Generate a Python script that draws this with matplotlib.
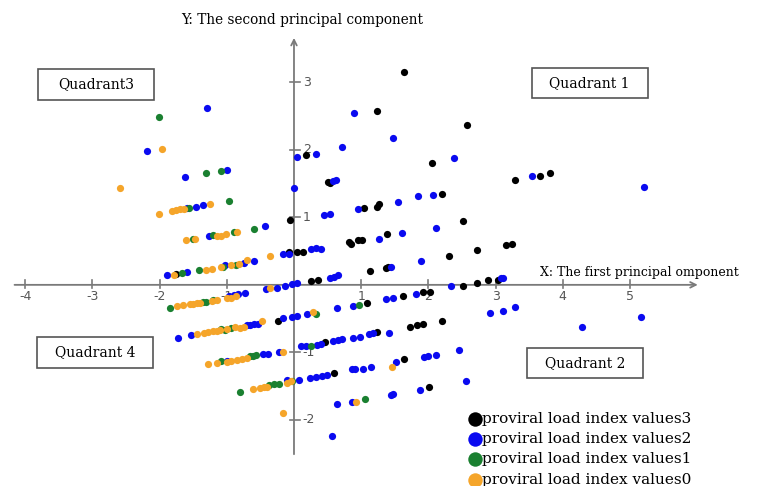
import matplotlib.pyplot as plt
from matplotlib.patches import Rectangle

# Valores (PC1, PC2) por grupo
x_v3 = [1.63, 1.23, 2.58, 0.18, 2.05, 2.20, 0.50, 0.54, 1.04, 1.24,
        1.27, 2.52, -0.06, 0.05, 0.13, -0.08, 0.82, 0.85, 0.96, 1.01,
        1.39, 2.31, 2.72, 1.13, 1.37, 1.40, 0.26, 0.35, 2.52, 2.72,
        2.89, 3.04, 3.29, 3.66, 3.81, 3.15, 3.25, 1.62, 1.09, 1.92,
        2.02, 2.20, 1.72, 1.83, 1.92, 1.23, 0.46, 1.63, 0.60, 2.01,
        -0.24, -1.76]
y_v3 = [3.16, 2.58, 2.37, 1.93, 1.81, 1.35, 1.52, 1.51, 1.14, 1.16,
        1.20, 0.95, 0.96, 0.49, 0.48, 0.49, 0.64, 0.61, 0.67, 0.66,
        0.76, 0.43, 0.51, 0.21, 0.25, 0.26, 0.06, 0.07, -0.01, 0.03,
        0.07, 0.07, 1.56, 1.61, 1.66, 0.59, 0.60, -0.16, -0.27, -0.11,
        -0.11, -0.53, -0.63, -0.60, -0.58, -0.70, -0.85, -1.10, -1.30, -1.52,
        -0.53, 0.16]

x_v2 = [-1.29, -2.19, -1.62, -1.00, 0.05, 0.00, -1.59, -1.46, -1.36, -0.43,
        -1.26, -0.17, -0.07, -1.89, -1.59, -1.03, -0.75, -0.60, -0.42, -0.26,
        -0.13, -0.03, 0.04,
        0.90, 1.48, 0.72, 0.33, 2.38, 0.58, 0.62, 1.55, 1.85, 2.07,
        0.44, 0.53, 0.95, 1.26, 1.60, 2.11, 0.26, 0.33, 0.40, 1.89,
        1.45, 0.53, 0.59, 0.66, 2.34, 3.54, 5.21, 3.08, 3.11,
        2.92, 3.11, 3.29, 4.29, 5.16, 1.37, 1.48, 1.82, 0.64, 0.88,
        -0.03, 0.05, 0.19, 0.10, 0.18, 0.34, 0.40, 0.58, 0.66, 0.71,
        0.88, 0.98, 1.11, 1.17, 1.41, 2.46, 1.52, 1.93, 2.00, 2.11,
        0.08, 0.24, 0.33, 0.41, 0.49, 0.86, 0.91, 1.03, 1.15, 1.87,
        1.45, 1.48, 2.56, 0.64, 0.86, 0.57,
        -0.96, -0.90, -0.83, -0.73, -1.72, -1.54, -0.70, -0.65, -0.60, -0.53,
        -0.16, -0.99, -0.46, -0.38, -0.22, -0.11]
y_v2 = [2.62, 1.99, 1.60, 1.70, 1.90, 1.43, 1.14, 1.15, 1.19, 0.87,
        0.72, 0.45, 0.45, 0.14, 0.19, 0.30, 0.33, 0.36, -0.06, -0.05,
        -0.01, 0.01, 0.02,
        2.54, 2.17, 2.04, 1.94, 1.88, 1.54, 1.55, 1.23, 1.31, 1.33,
        1.04, 1.05, 1.12, 0.68, 0.77, 0.84, 0.53, 0.54, 0.53, 0.36,
        0.27, 0.10, 0.11, 0.14, -0.02, 1.61, 1.45, 0.10, 0.10,
        -0.42, -0.39, -0.33, -0.62, -0.47, -0.21, -0.19, -0.14, -0.35, -0.31,
        -0.48, -0.46, -0.43, -0.91, -0.90, -0.89, -0.87, -0.83, -0.81, -0.80,
        -0.78, -0.77, -0.73, -0.72, -0.72, -0.97, -1.14, -1.07, -1.06, -1.04,
        -1.41, -1.38, -1.36, -1.35, -1.33, -1.25, -1.25, -1.25, -1.22, -1.56,
        -1.63, -1.61, -1.43, -1.77, -1.73, -2.24,
        -0.17, -0.15, -0.14, -0.12, -0.78, -0.75, -0.60, -0.59, -0.58, -0.58,
        -0.49, -1.13, -1.03, -1.02, -0.99, -1.41]

x_v1 = [-2.01, -1.31, -1.09, -0.97, -1.56, -0.59, -1.50, -1.20, -0.90, -1.67,
        -1.42, -1.05, -0.86, -1.84, -1.35, -1.31, -1.20, -1.08, -1.03, -0.93,
        -1.08, -0.66, -0.61, -0.56, -0.80, -0.37, -0.30, -0.22, 0.33, 0.97,
        0.26, 1.06, -0.03]
y_v1 = [2.48, 1.65, 1.69, 1.24, 1.14, 0.83, 0.68, 0.74, 0.79, 0.18,
        0.22, 0.27, 0.29, -0.34, -0.25, -0.25, -0.23, -0.66, -0.67, -0.64,
        -1.13, -1.06, -1.05, -1.04, -1.58, -1.48, -1.47, -1.47, -0.43, -0.30,
        -0.91, -1.69, -1.43]

x_v0 = [-2.59, -1.96, -2.01, -1.82, -1.76, -1.70, -1.64, -1.25, -1.60, -1.47,
        -1.15, -1.09, -1.01, -0.85, -0.36, -1.31, -1.22, -1.09, -0.94, -0.82,
        -0.70, -1.78, -0.35,
        -1.74, -1.65, -1.55, -1.51, -1.45, -1.40, -1.22, -1.15, -0.99, -0.93, -0.86,
        -1.45, -1.34, -1.28, -1.20, -1.15, -1.10, -0.99, -0.88, -0.81, -0.75, -0.48,
        -1.28, -1.15, -1.00, -0.93, -0.85, -0.78, -0.70, -0.16,
        -0.61, -0.51, -0.45, -0.40, -0.10, -0.04,
        -0.16, 0.29, 1.46, 0.93]
y_v0 = [1.44, 2.01, 1.05, 1.10, 1.11, 1.13, 1.13, 1.20, 0.66, 0.68,
        0.73, 0.73, 0.75, 0.79, 0.42, 0.22, 0.24, 0.26, 0.30, 0.31,
        0.37, 0.15, -0.05,
        -0.31, -0.30, -0.29, -0.28, -0.27, -0.27, -0.24, -0.23, -0.20, -0.19, -0.17,
        -0.73, -0.72, -0.70, -0.69, -0.68, -0.67, -0.65, -0.63, -0.64, -0.63, -0.53,
        -1.17, -1.16, -1.14, -1.13, -1.11, -1.10, -1.09, -0.99,
        -1.55, -1.53, -1.52, -1.51, -1.45, -1.42,
        -1.90, -0.40, -1.22, -1.73]

x_ticks = [-4, -3, -2, -1, 1, 2, 3, 4, 5]
y_ticks = [-2, -1, 1, 2, 3]

fig = plt.figure(figsize=(7.6, 4.86), dpi=100)
ax = fig.add_axes([0, 0, 1, 1])
ax.set_xlim(-4.375, 6.935)
ax.set_ylim(-2.98, 4.22)
ax.axis("off")

cinza = "#7a7a7a"

# eixos com seta
ax.annotate("", xy=(6.05, 0), xytext=(-4.2, 0),
            arrowprops=dict(arrowstyle="->", color=cinza, lw=1.3))
ax.annotate("", xy=(0, 3.7), xytext=(0, -2.55),
            arrowprops=dict(arrowstyle="->", color=cinza, lw=1.3))

for t in x_ticks:
    ax.plot([t, t], [-0.045, 0.07], color=cinza, lw=1.2)
    ax.text(t, -0.18, str(t), ha="center", va="center", fontsize=9, color="#555555")
for t in y_ticks:
    ax.plot([-0.06, 0.09], [t, t], color=cinza, lw=1.2)
    ax.text(0.13, t, str(t), ha="left", va="center", fontsize=9, color="#555555")

# pontos
ax.scatter(x_v3, y_v3, s=27, color="#000000", lw=0, label="proviral load index values3", zorder=3)
ax.scatter(x_v2, y_v2, s=27, color="#0a0af0", lw=0, label="proviral load index values2", zorder=3)
ax.scatter(x_v1, y_v1, s=27, color="#1a8030", lw=0, label="proviral load index values1", zorder=3)
ax.scatter(x_v0, y_v0, s=27, color="#f5a52a", lw=0, label="proviral load index values0", zorder=3)

serif = "DejaVu Serif"
ax.text(0.12, 3.93, "Y: The second principal component", ha="center", va="center",
        fontsize=9.8, family=serif)
ax.text(3.66, 0.19, "X: The first principal omponent", ha="left", va="center",
        fontsize=9, family=serif)

# caixas dos quadrantes
quadrantes = [("Quadrant3", -2.95, 2.97), ("Quadrant 1", 4.40, 2.99),
              ("Quadrant 4", -2.96, -1.0), ("Quadrant 2", 4.33, -1.16)]
for nome, cx, cy in quadrantes:
    w, h = 1.73, 0.45
    ax.add_patch(Rectangle((cx - w / 2, cy - h / 2), w, h, fill=False,
                           edgecolor="#555555", lw=1.2))
    ax.text(cx, cy, nome, ha="center", va="center", fontsize=10, family=serif)

leg = ax.legend(loc="upper left", bbox_to_anchor=(462 / 760, 1 - 404 / 486),
                bbox_transform=fig.transFigure, frameon=False, borderpad=0,
                handlelength=0.7, handletextpad=0.1, labelspacing=0.42,
                markerscale=2.0, prop={"family": serif, "size": 11})

fig.savefig("out.png", dpi=100)
plt.close(fig)
